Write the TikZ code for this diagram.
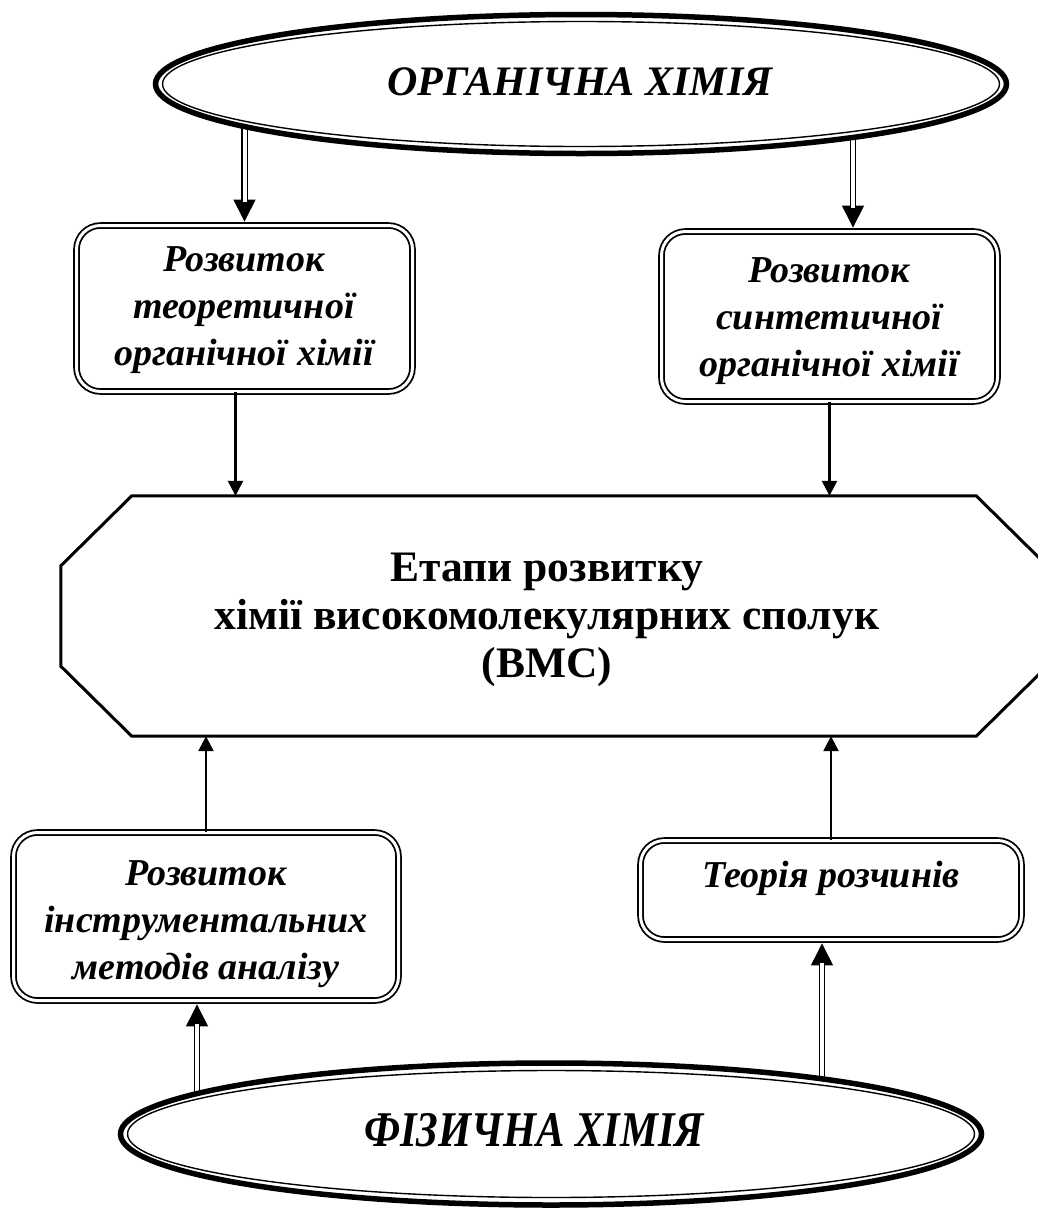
\documentclass[tikz,border=0pt]{standalone}
\usepackage{fontspec}
\setmainfont{Liberation Serif}
\usetikzlibrary{arrows.meta,backgrounds,shapes.geometric}

\tikzset{
  rbox/.style={draw, line width=1.8pt, double=white, double distance=3pt,
    rounded corners=24pt, inner sep=0pt},
  boxtxt/.style={align=center, inner sep=0pt,
    font=\fontsize{38pt}{47pt}\selectfont\bfseries\itshape},
  bigell/.style={ellipse, draw, fill=white, line width=5.5pt, inner sep=0pt},
  elltxt/.style={inner sep=0pt, font=\fontsize{42pt}{50pt}\selectfont\bfseries\itshape},
  octtxt/.style={align=center, inner sep=0pt,
    font=\fontsize{43.5pt}{48pt}\selectfont\bfseries},
  thinarrow/.style={line width=2.6pt, -{Triangle[length=15pt,width=15pt]}},
  tipline/.style={line width=1pt, -{Triangle[length=22pt,width=22pt]}},
  dblshaft/.style={line width=1.3pt, double=white, double distance=4pt,
    shorten >=20pt},
}

\begin{document}
\begin{tikzpicture}[x=1pt,y=-1pt]
\useasboundingbox (0,0) rectangle (1038,1211);

% source fields
\node[bigell, minimum width=851pt, minimum height=139pt] (org) at (581,84) {};
\draw[line width=1.4pt] (org.center) ellipse [x radius=418.5pt, y radius=62.5pt];
\node[elltxt] (orgt) at (580,82) {ОРГАНІЧНА ХІМІЯ};

\node[bigell, minimum width=861pt, minimum height=142pt] (phys) at (551,1134) {};
\draw[line width=1.4pt] (phys.center) ellipse [x radius=423.5pt, y radius=63.5pt];
\node[elltxt, font=\fontsize{50pt}{56pt}\selectfont\bfseries\itshape] (physt) at (534,1130)
  {\scalebox{0.85}[1]{ФІЗИЧНА ХІМІЯ}};

% intermediate directions
\node[rbox, minimum width=336pt, minimum height=166pt] (b1) at (244.5,308.5) {};
\node[boxtxt] (t1) at (244,310) {Розвиток\\теоретичної\\органічної хімії};

\node[rbox, minimum width=336pt, minimum height=170pt] (b2) at (829.5,316.5) {};
\node[boxtxt] (t2) at (829,321) {Розвиток\\синтетичної\\органічної хімії};

\node[rbox, minimum width=385pt, minimum height=168pt] (b3) at (206,916.5) {};
\node[boxtxt] (t3) at (206,924) {Розвиток\\інструментальних\\методів аналізу};

\node[rbox, minimum width=381pt, minimum height=99pt] (b4) at (831,890) {};
\node[boxtxt] (t4) at (831,878) {Теорія розчинів};

% central octagon
\node[minimum width=986pt, minimum height=240pt, inner sep=0pt] (oct) at (554,616) {};
\begin{scope}
\clip (0,0) rectangle (1038,1211);
\draw[line width=3pt, line join=miter]
  ([xshift=71pt]oct.north west) -- ([xshift=-71pt]oct.north east)
  -- ([yshift=-70pt]oct.north east) -- ([yshift=70pt]oct.south east)
  -- ([xshift=-71pt]oct.south east) -- ([xshift=71pt]oct.south west)
  -- ([yshift=70pt]oct.south west) -- ([yshift=-70pt]oct.north west) -- cycle;
\end{scope}
\node[octtxt] (octt) at (547,620) {Етапи розвитку\\хімії високомолекулярних сполук\\(ВМС)};

% anchor points of connectors
\coordinate (a1) at ([xshift=-9pt]b1.south);
\coordinate (a2) at (b2.south);
\coordinate (a3) at (b3.north);
\coordinate (a4) at (b4.north);
\coordinate (d1) at (b1.north);
\coordinate (d2) at ([xshift=23.5pt]b2.north);
\coordinate (d3) at ([xshift=-9pt]b3.south);
\coordinate (d4) at ([xshift=-9pt]b4.south);

% single arrows into the octagon
\draw[thinarrow] (a1) -- (a1 |- oct.north);
\draw[thinarrow] (a2) -- (a2 |- oct.north);
\draw[thinarrow] (a3) -- (a3 |- oct.south);
\draw[thinarrow] (a4) -- (a4 |- oct.south);

% double arrows from the ellipses, starting behind them
\begin{pgfonlayer}{background}
\draw[tipline] (d1 |- org.center) -- ([yshift=3pt]d1);
\draw[dblshaft] (d1 |- org.center) -- ([yshift=3pt]d1);
\draw[tipline] (d2 |- org.center) -- ([yshift=3pt]d2);
\draw[dblshaft] (d2 |- org.center) -- ([yshift=3pt]d2);
\draw[tipline] (d3 |- phys.center) -- ([yshift=-3pt]d3);
\draw[dblshaft] (d3 |- phys.center) -- ([yshift=-3pt]d3);
\draw[tipline] (d4 |- phys.center) -- ([yshift=-3pt]d4);
\draw[dblshaft] (d4 |- phys.center) -- ([yshift=-3pt]d4);
\end{pgfonlayer}
\end{tikzpicture}
\end{document}
